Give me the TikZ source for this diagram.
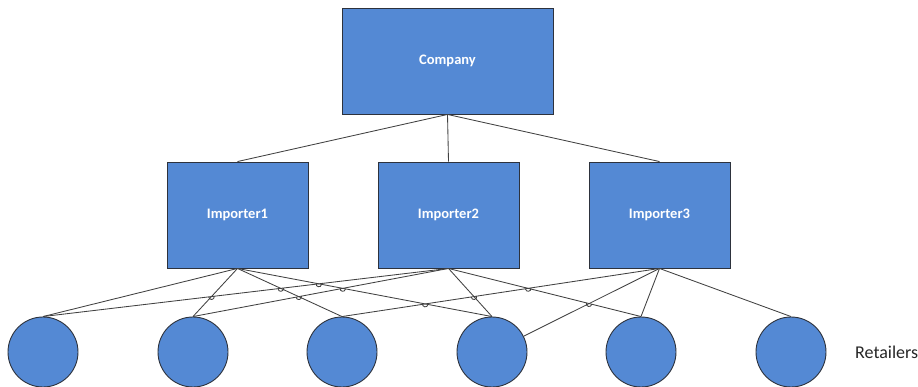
\documentclass[tikz,border=0pt]{standalone}
\usepackage{fontspec}
\usetikzlibrary{calc,intersections}
\newfontfamily\calfont{Carlito}
\definecolor{boxblue}{RGB}{84,137,212}
\definecolor{edgegray}{RGB}{65,65,65}
\definecolor{rimgray}{RGB}{45,50,60}
\tikzset{
  unitbox/.style={draw=rimgray, line width=0.9pt, fill=boxblue, inner sep=0pt,
    text=white, font=\calfont\bfseries\fontsize{14.5}{17}\selectfont},
  retailer/.style={circle, draw=rimgray, line width=0.9pt, fill=boxblue,
    minimum size=70pt, inner sep=0pt},
  link/.style={draw=edgegray, line width=0.85pt},
}
% small jump drawn where one connector passes over another
\newcommand\hopover[3]{%
  \draw[link] ($(#1)!2.8pt!(#2)$) to[bend right=90, looseness=1.8] ($(#1)!2.8pt!(#3)$);}
\begin{document}
\begin{tikzpicture}[x=1pt,y=-1pt]
\useasboundingbox (0,0) rectangle (918,387);

% hierarchy boxes
\node[unitbox, minimum width=211pt, minimum height=106pt] (company) at (447.5,61) {\raisebox{-1.5pt}{Company}};
\node[unitbox, minimum width=141pt, minimum height=106pt] (imp1) at (237.5,215) {Importer1};
\node[unitbox, minimum width=141pt, minimum height=106pt] (imp2) at (448.5,215) {Importer2};
\node[unitbox, minimum width=141pt, minimum height=106pt] (imp3) at (659.5,215) {Importer3};

% retail outlets
\foreach \i/\x in {1/43,2/193,3/342,4/492,5/641,6/791}
  \node[retailer] (ret\i) at (\x,352) {};
\node[anchor=west, text=black!85, font=\calfont\fontsize{18}{21}\selectfont, inner sep=0pt]
  (retlabel) at (855,352) {Retailers};

% company to importers
\draw[link] (company.south) -- (imp1.north);
\draw[link] (company.south) -- (imp2.north);
\draw[link] (company.south) -- (imp3.north);

% importers to retailers
\draw[link, name path=a1] (imp1.south) -- (ret1.north);
\draw[link, name path=a2] (imp1.south) -- (ret2.north);
\draw[link, name path=a3] (imp1.south) -- (ret3.north);
\draw[link, name path=a4] (imp1.south) -- (ret4.north);
\draw[link, name path=b1] (imp2.south) -- (ret1.north);
\draw[link, name path=b2] (imp2.south) -- (ret2.north);
\draw[link, name path=b4] (imp2.south) -- (ret4.north);
\draw[link, name path=b5] (imp2.south) -- (ret5.north);
\draw[link, name path=c3] (imp3.south) -- (ret3.north);
\draw[link, name path=c4] (imp3.south) -- (ret4);
\draw[link] (imp3.south) -- (ret5.north);
\draw[link] (imp3.south) -- (ret6.north);

% crossings
\path[name intersections={of=a2 and b1, by=x1}];
\path[name intersections={of=a3 and b1, by=x2}];
\path[name intersections={of=a3 and b2, by=x3}];
\path[name intersections={of=a4 and b1, by=x4}];
\path[name intersections={of=a4 and b2, by=x5}];
\path[name intersections={of=a4 and c3, by=x6}];
\path[name intersections={of=b4 and c3, by=x7}];
\path[name intersections={of=b5 and c3, by=x8}];
\path[name intersections={of=b5 and c4, by=x9}];

\hopover{x1}{ret1.north}{imp2.south}
\hopover{x2}{ret1.north}{imp2.south}
\hopover{x3}{ret2.north}{imp2.south}
\hopover{x4}{imp1.south}{ret4.north}
\hopover{x5}{imp1.south}{ret4.north}
\hopover{x6}{imp1.south}{ret4.north}
\hopover{x7}{ret3.north}{imp3.south}
\hopover{x8}{ret3.north}{imp3.south}
\hopover{x9}{imp2.south}{ret5.north}
\end{tikzpicture}
\end{document}
